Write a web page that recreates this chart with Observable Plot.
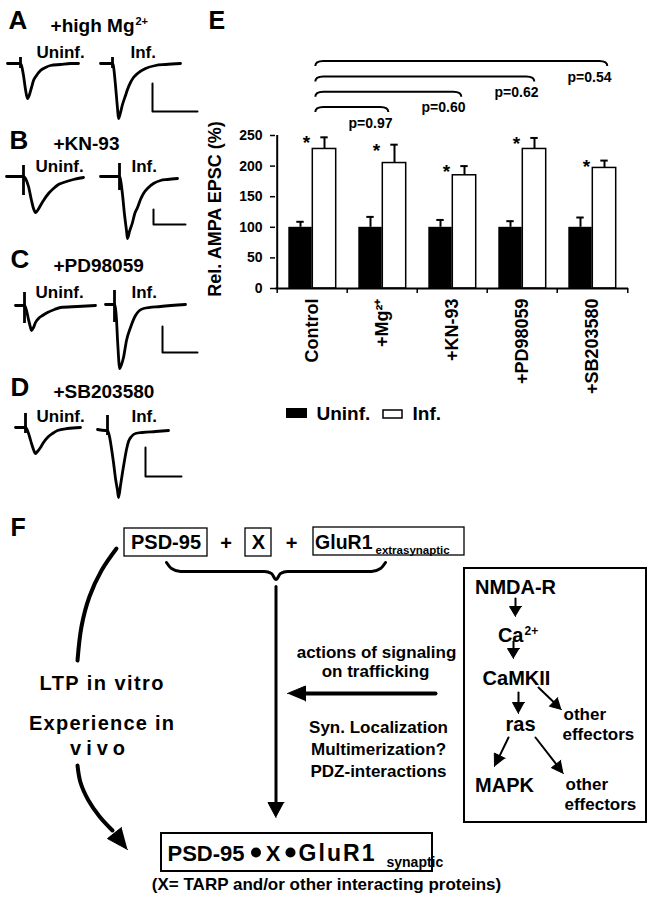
<!DOCTYPE html>
<html><head><meta charset="utf-8">
<script src="https://cdn.jsdelivr.net/npm/d3@7"></script>
<script src="https://cdn.jsdelivr.net/npm/@observablehq/plot@0.6"></script>
<style>
body{margin:0;background:#fff;}
#page{position:relative;width:650px;height:899px;overflow:hidden;background:#fff;}
#page svg{position:absolute;overflow:visible;max-width:none;}
#chartE g[aria-label^="y-axis"] text{font-size:14px;}
#chartE g[aria-label^="x-axis"] text{font-size:18px;}
</style></head><body><div id="page"></div>
<script>
// ---------------- DATA ----------------
const categories = ["Control", "+Mg2+", "+KN-93", "+PD98059", "+SB203580"];
const categoryLabels = ["Control", "+Mg\u00B2\u207A", "+KN-93", "+PD98059", "+SB203580"];
const uninfMean = [100, 100, 100, 100, 100];
const uninfSem = [9, 17, 12, 10, 16];
const infMean = [228, 205, 185, 228, 197];
const infSem = [19, 30, 15, 18, 12];
const significant = [true, true, true, true, true];
const comparisons = ["+Mg2+", "+KN-93", "+PD98059", "+SB203580"];
const pValues = ["p=0.97", "p=0.60", "p=0.62", "p=0.54"];
const yTicks = [0, 50, 100, 150, 200, 250];
const seriesNames = ["Uninf.", "Inf."];
const yLabel = "Rel. AMPA EPSC (%)";

// example EPSC traces: [time from stimulus, current relative to baseline]
const traceUninfA = [[-13,0],[-2,0],[0,0],[1,-2],[3,-12],[5,-26],[7,-35],[9,-31],[11,-24],[13,-17],[16,-12],[20,-7],[25,-4],[30,-2],[40,-1],[50,0],[58,0]];
const traceInfA = [[-12,0],[-2,0],[0,0],[1,-3],[3,-22],[5,-45],[6,-55],[8,-49],[10,-41],[13,-32],[15,-26],[18,-19],[21,-14],[25,-10],[33,-5],[43,-2],[53,-1],[68,0]];
const traceUninfB = [[-17,0],[-2,0],[0,0],[2,-2],[5,-10],[8,-24],[10,-32],[12,-36],[14,-34],[17,-29],[20,-24],[25,-17],[30,-12],[35,-8],[40,-6],[50,-3],[60,-1]];
const traceInfB = [[-19,0],[-2,0],[0,0],[1,-3],[3,-18],[5,-38],[7,-54],[8,-62],[10,-55],[13,-46],[15,-38],[18,-31],[21,-23],[24,-17],[29,-11],[34,-7],[41,-4],[48,-3],[58,-2]];
const traceUninfC = [[-9,0],[-2,0],[0,0],[2,-5],[4,-14],[6,-22],[7,-25],[9,-22],[11,-17],[14,-13],[18,-10],[23,-7],[30,-4],[36,-2],[53,-1],[71,0]];
const traceInfC = [[-9,0],[-2,0],[0,0],[1,-4],[2,-15],[3,-35],[4,-52],[5,-64],[7,-60],[9,-53],[12,-36],[16,-23],[21,-11],[29,-4],[46,-2],[71,0]];
const traceUninfD = [[-10,0],[-2,0],[0,0],[2,-3],[4,-9],[6,-16],[8,-22],[10,-26],[12,-24],[15,-20],[18,-15],[22,-10],[27,-6],[32,-3],[42,-1],[55,0]];
const traceInfD = [[-10,1],[-2,0],[0,0],[2,-6],[4,-18],[6,-32],[8,-48],[10,-60],[11,-67],[13,-55],[15,-42],[17,-30],[19,-19],[21,-11],[24,-6],[28,-3],[35,-2],[48,-1],[61,0]];
// stimulus artifacts [up, down]
const artifactUninf = [[6,-5],[11,-19],[13,-18],[14,-6]];
const artifactInf = [[6,-5],[13,-14],[14,-18],[15,-5]];
// scale bars (time, current)
const scaleBarT = [45, 32, 35, 36];
const scaleBarI = [28, 15, 26, 29];

// ---------------- HELPERS ----------------
const FONT = '"Liberation Sans", Arial, Helvetica, sans-serif';
const page = document.getElementById("page");
const baseStyle = {fontFamily: FONT, fontWeight: "bold", background: "transparent", color: "black", overflow: "visible"};
function place(el, left, top, id) {
  el.style.position = "absolute"; el.style.left = left + "px"; el.style.top = top + "px";
  el.style.background = "transparent"; el.style.overflow = "visible"; el.style.maxWidth = "none";
  if (id) el.id = id;
  page.appendChild(el); return el;
}
const txt = (rows, o) => Plot.text(rows, {x: d => d[1], y: d => d[2], text: d => d[0], lineAnchor: "bottom", fill: "black", fontWeight: "bold", ...o});
function head(id, x1, y1, x2, y2, len, wid) {
  const dx = x2 - x1, dy = y2 - y1, L = Math.hypot(dx, dy), ux = dx / L, uy = dy / L;
  const bx = x2 - ux * len, by = y2 - uy * len;
  return [{id, x: x2, y: y2}, {id, x: bx - uy * wid / 2, y: by + ux * wid / 2}, {id, x: bx + uy * wid / 2, y: by - ux * wid / 2}];
}
function shaft(id, x1, y1, x2, y2, len) {
  const dx = x2 - x1, dy = y2 - y1, L = Math.hypot(dx, dy);
  return [{id, x: x1, y: y1}, {id, x: x2 - dx / L * len * 0.7, y: y2 - dy / L * len * 0.7}];
}

// ---------------- PAGE LAYER (labels, legend, schematic F) ----------------
const arrowsBig = [["v", 275.5, 586, 275.5, 817, 15, 16, 3], ["h", 435, 693, 287, 693, 18, 15, 4]];
const arrowsSmall = [
  ["a1", 515, 598, 515, 616, 10, 12], ["a2", 513, 641, 513, 658, 10, 12],
  ["a3", 518, 692, 518, 713, 11, 12], ["a4", 538, 687, 561, 709, 11, 12],
  ["a5", 508, 737, 494, 766, 12, 12], ["a6", 535, 737, 563, 773, 12, 12]];
const curvePts = [[116,548],[101,570],[89,596],[81,626],[77,660]].map(([x,y]) => ({id: "c1", x, y}));
const curve2 = [[77,765],[80,782],[88,800],[99,816],[112,830]].map(([x,y]) => ({id: "c2", x, y}));
const bracePts = [[166,562],[171,568],[180,571],[264,571],[271,573],[275.5,579],[280,573],[287,571],[371,571],[380,568],[385,562]].map(([x,y]) => ({id: "b", x, y}));
let heads = [], shaftsThin = [];
for (const [id,x1,y1,x2,y2,l,w] of arrowsBig) { heads.push(...head(id,x1,y1,x2,y2,l,w)); }
for (const [id,x1,y1,x2,y2,l,w] of arrowsSmall) { heads.push(...head(id,x1,y1,x2,y2,l,w)); shaftsThin.push(...shaft(id,x1,y1,x2,y2,l)); }
heads.push(...head("c2h", 112, 830, 127, 849, 21, 18));

const pagePlot = Plot.plot({
  width: 650, height: 899, margin: 0,
  x: {domain: [0, 650], range: [0, 650], axis: null},
  y: {domain: [0, 899], range: [0, 899], axis: null},
  style: baseStyle,
  marks: [
    // panel letters and titles
    txt([["A",8,28],["B",9,148],["C",10,267],["D",10,395]], {fontSize: 26, textAnchor: "start"}),
    txt([["E",208,28],["F",10,535]], {fontSize: 25, textAnchor: "start"}),
    txt([["+high Mg",134,31]], {fontSize: 19, textAnchor: "end"}),
    txt([["2+",135,24]], {fontSize: 11, textAnchor: "start"}),
    txt([["+KN-93",53,149],["+PD98059",53,271],["+SB203580",53,397]], {fontSize: 19, textAnchor: "start"}),
    txt([[seriesNames[0],36,57],[seriesNames[0],35,171],[seriesNames[0],35,297],[seriesNames[0],36,421],
         [seriesNames[1],130,57],[seriesNames[1],131,171],[seriesNames[1],131,297],[seriesNames[1],131,421]], {fontSize: 17, textAnchor: "start"}),
    // legend for E
    Plot.rect([0], {x1: 286, x2: 307, y1: 408, y2: 418, fill: "black"}),
    Plot.rect([0], {x1: 383, x2: 402, y1: 410, y2: 418, fill: "white", stroke: "black", strokeWidth: 1.5}),
    txt([[seriesNames[0],316,419],[seriesNames[1],412,419]], {fontSize: 19, textAnchor: "start"}),
    // F boxes
    Plot.rect([[124,207,528,556],[245,271,528,556],[313,464,527,555]], {x1: d=>d[0], x2: d=>d[1], y1: d=>d[2], y2: d=>d[3], fill: "none", stroke: "black", strokeWidth: 1.3}),
    Plot.rect([[464,646,568,822],[161,432,833,871]], {x1: d=>d[0], x2: d=>d[1], y1: d=>d[2], y2: d=>d[3], fill: "none", stroke: "black", strokeWidth: 2}),
    // F lines
    Plot.line(bracePts, {x: "x", y: "y", z: "id", curve: "monotone-x", stroke: "black", strokeWidth: 3}),
    Plot.line(curvePts, {x: "x", y: "y", z: "id", curve: "catmull-rom", stroke: "black", strokeWidth: 4}),
    Plot.line(curve2, {x: "x", y: "y", z: "id", curve: "catmull-rom", stroke: "black", strokeWidth: 4}),
    Plot.line(shaft("v",275.5,586,275.5,817,15), {x: "x", y: "y", stroke: "black", strokeWidth: 3}),
    Plot.line(shaft("h",435,693,287,693,18), {x: "x", y: "y", stroke: "black", strokeWidth: 4}),
    Plot.line(shaftsThin, {x: "x", y: "y", z: "id", stroke: "black", strokeWidth: 2}),
    Plot.line(heads, {x: "x", y: "y", z: "id", fill: "black", stroke: "black", strokeWidth: 1, strokeLinejoin: "miter"}),
    // F texts
    txt([["PSD-95",165.5,548],["+",225.5,549],["X",258,548],["+",291,549],["NMDA-R",515,593],["CaMKII",516,684],["ras",520,730],["MAPK",504,791]], {fontSize: 20, textAnchor: "middle"}),
    txt([["GluR1",372,548]], {fontSize: 19.5, textAnchor: "end"}),
    txt([["extrasynaptic",375,553]], {fontSize: 11.5, textAnchor: "start"}),
    txt([["Ca",523,641]], {fontSize: 20, textAnchor: "end"}),
    txt([["2+",524,634]], {fontSize: 12, textAnchor: "start"}),
    txt([["other",563,719],["effectors",562,739],["other",565,789],["effectors",564,809]], {fontSize: 17, textAnchor: "start"}),
    txt([["actions of signaling",376,657],["on trafficking",375,676],["Syn. Localization",378,732],["Multimerization?",378,754],["PDZ-interactions",378,776]], {fontSize: 17, textAnchor: "middle"}),
    txt([["LTP in vitro",101,689],["Experience in",101,729],["vivo",97,754]], {fontSize: 20, textAnchor: "middle"}),
    txt([["PSD-95",167,860]], {fontSize: 22, textAnchor: "start"}),
    txt([["GluR1",298,860]], {fontSize: 23, textAnchor: "start"}),
    txt([["X",272.5,860]], {fontSize: 22, textAnchor: "middle"}),
    Plot.dot([[255.5,852],[290,852]], {x: d => d[0], y: d => d[1], r: 5, fill: "black", stroke: "none"}),
    txt([["synaptic",386,866]], {fontSize: 14, textAnchor: "start"}),
    txt([["(X= TARP and/or other interacting proteins)",326,889]], {fontSize: 17, textAnchor: "middle"})
  ]
});
place(pagePlot, 0, 0, "pagePlot");
const fitWidths = {"LTP in vitro": 124, "Experience in": 145, "vivo": 55, "GluR1@23": 76};
d3.select(pagePlot).selectAll("text").each(function() {
  let key = this.textContent;
  const g = this.closest("g");
  const fs = g && g.getAttribute("font-size");
  if (key === "GluR1" && fs === "23") key = "GluR1@23";
  const w = fitWidths[key];
  if (w) { this.setAttribute("textLength", w); this.setAttribute("lengthAdjust", "spacing"); }
});

// ---------------- PANEL E: bar chart ----------------
const mL = 80, mR = 22, Wd = 455;
const bw = (Wd - mL - mR) / categories.length;
const rows = categories.map((c, i) => ({cat: c, uninf: uninfMean[i], uninfTop: uninfMean[i] + uninfSem[i], inf: infMean[i], infTop: infMean[i] + infSem[i], sig: significant[i]}));
const pMarks = comparisons.map((c, i) => Plot.text([c], {x: d => d, y: () => 250, text: () => pValues[i], textAnchor: "end", lineAnchor: "bottom", dx: 10 + 3 * i, dy: -8 - 15.3 * i, fontSize: 14, fontWeight: "bold", fill: "black"}));
const fmtX = c => categoryLabels[categories.indexOf(c)];
const hasAxisMarks = typeof Plot.axisX === "function" && typeof Plot.axisY === "function";
const axisMarks = hasAxisMarks ? [
  Plot.axisX({tickSize: 0, tickPadding: 10, tickRotate: -90, tickFormat: fmtX, fontSize: 18, fontWeight: "bold", label: null}),
  Plot.axisY({ticks: yTicks, tickSize: 5, tickPadding: 8, fontSize: 14, fontWeight: "bold", strokeWidth: 1.5, label: null})
] : [];
const chartE = Plot.plot({
  width: Wd, height: 420, marginLeft: mL, marginRight: mR, marginTop: 135, marginBottom: 132,
  style: baseStyle,
  x: {domain: categories, padding: 0, tickSize: 0, tickPadding: 10, tickRotate: -90, tickFormat: fmtX, label: null},
  y: {domain: [0, 250], ticks: yTicks, tickSize: 5, tickPadding: 8, label: null},
  marks: [
    ...axisMarks,
    Plot.barY(rows, {x: "cat", y: "uninf", fill: "black", insetLeft: bw / 2 - 24, insetRight: bw / 2}),
    Plot.barY(rows, {x: "cat", y: "inf", fill: "white", stroke: "black", strokeWidth: 1.5, insetLeft: bw / 2, insetRight: bw / 2 - 24}),
    Plot.ruleX(rows, {x: "cat", y1: "uninf", y2: "uninfTop", dx: -12, stroke: "black", strokeWidth: 2}),
    Plot.tickY(rows, {x: "cat", y: "uninfTop", dx: -12, insetLeft: bw / 2 - 4, insetRight: bw / 2 - 4, stroke: "black", strokeWidth: 2}),
    Plot.ruleX(rows, {x: "cat", y1: "inf", y2: "infTop", dx: 12, stroke: "black", strokeWidth: 2}),
    Plot.tickY(rows, {x: "cat", y: "infTop", dx: 12, insetLeft: bw / 2 - 4, insetRight: bw / 2 - 4, stroke: "black", strokeWidth: 2}),
    Plot.text(rows.filter(d => d.sig), {x: "cat", y: "infTop", text: () => "*", dx: -6, dy: 6, fontSize: 19, fontWeight: "bold", fill: "black"}),
    Plot.ruleY([0], {stroke: "black", strokeWidth: 2}),
    Plot.ruleX([categories[0]], {y1: 0, y2: 250, dx: -bw / 2, stroke: "black", strokeWidth: 2}),
    Plot.ruleX(categories, {y1: 0, y2: -8.2, dx: -bw / 2, stroke: "black", strokeWidth: 1.5}),
    Plot.ruleX([categories[categories.length - 1]], {y1: 0, y2: -8.2, dx: bw / 2, stroke: "black", strokeWidth: 1.5}),
    Plot.text([yLabel], {frameAnchor: "left", text: d => d, rotate: -90, textAnchor: "middle", lineAnchor: "middle", dx: -60, dy: -3, fontSize: 18, fontWeight: "bold", fill: "black"}),
    ...pMarks
  ]
});
place(chartE, 195, 0, "chartE");
// significance brackets drawn with the chart's own scales
(function () {
  const sx = chartE.scale("x"), sy = chartE.scale("y");
  const xc = c => (sx.apply ? sx.apply(c) : mL + categories.indexOf(c) * bw) + bw / 2;
  const y250 = sy.apply ? sy.apply(250) : 135;
  const svg = d3.select(chartE);
  comparisons.forEach((c, i) => {
    const L = xc(categories[0]) + 3, R = xc(c) + 6 + 3 * i, t = y250 - 28 - 15.3 * i;
    svg.append("path").attr("fill", "none").attr("stroke", "black").attr("stroke-width", 2)
      .attr("d", `M${L},${t + 5}Q${L},${t} ${L + 8},${t}L${R - 8},${t}Q${R},${t} ${R},${t + 5}`);
  });
})();

// ---------------- PANELS A-D: example traces ----------------
const panels = [
  {uninf: traceUninfA, inf: traceInfA, uninfX: 20, infX: 112, base: 63, infDy: 0, barT0: 40, barI0: -20},
  {uninf: traceUninfB, inf: traceInfB, uninfX: 23, infX: 119, base: 176, infDy: 0, barT0: 34, barI0: -33},
  {uninf: traceUninfC, inf: traceInfC, uninfX: 24, infX: 114, base: 305, infDy: -1, barT0: 48, barI0: -22},
  {uninf: traceUninfD, inf: traceInfD, uninfX: 25, infX: 107, base: 427, infDy: 3, barT0: 38, barI0: -17}
];
panels.forEach((p, k) => {
  const H = 110, off = 25;
  const bar = [[p.barT0, p.barI0], [p.barT0, p.barI0 - scaleBarI[k]], [p.barT0 + scaleBarT[k], p.barI0 - scaleBarI[k]]];
  const dxInf = p.infX - p.uninfX;
  const tp = Plot.plot({
    width: 200, height: H, margin: 0,
    x: {domain: [-p.uninfX, 200 - p.uninfX], range: [0, 200], axis: null},
    y: {domain: [-(H - off), off], range: [H, 0], axis: null},
    style: baseStyle,
    marks: [
      Plot.line(p.uninf, {x: d => d[0], y: d => d[1], curve: "monotone-x", stroke: "black", strokeWidth: 2.8}),
      Plot.line(p.inf, {x: d => d[0], y: d => d[1], curve: "monotone-x", stroke: "black", strokeWidth: 2.8, dx: dxInf, dy: p.infDy}),
      Plot.ruleX([artifactUninf[k]], {x: () => 0, y1: d => d[0], y2: d => d[1], stroke: "black", strokeWidth: 2.8}),
      Plot.ruleX([artifactInf[k]], {x: () => 0, y1: d => d[0], y2: d => d[1], stroke: "black", strokeWidth: 2.8, dx: dxInf, dy: p.infDy}),
      Plot.line(bar, {x: d => d[0], y: d => d[1], stroke: "black", strokeWidth: 2, dx: dxInf, dy: p.infDy})
    ]
  });
  place(tp, 0, p.base - off);
});
</script></body></html>
